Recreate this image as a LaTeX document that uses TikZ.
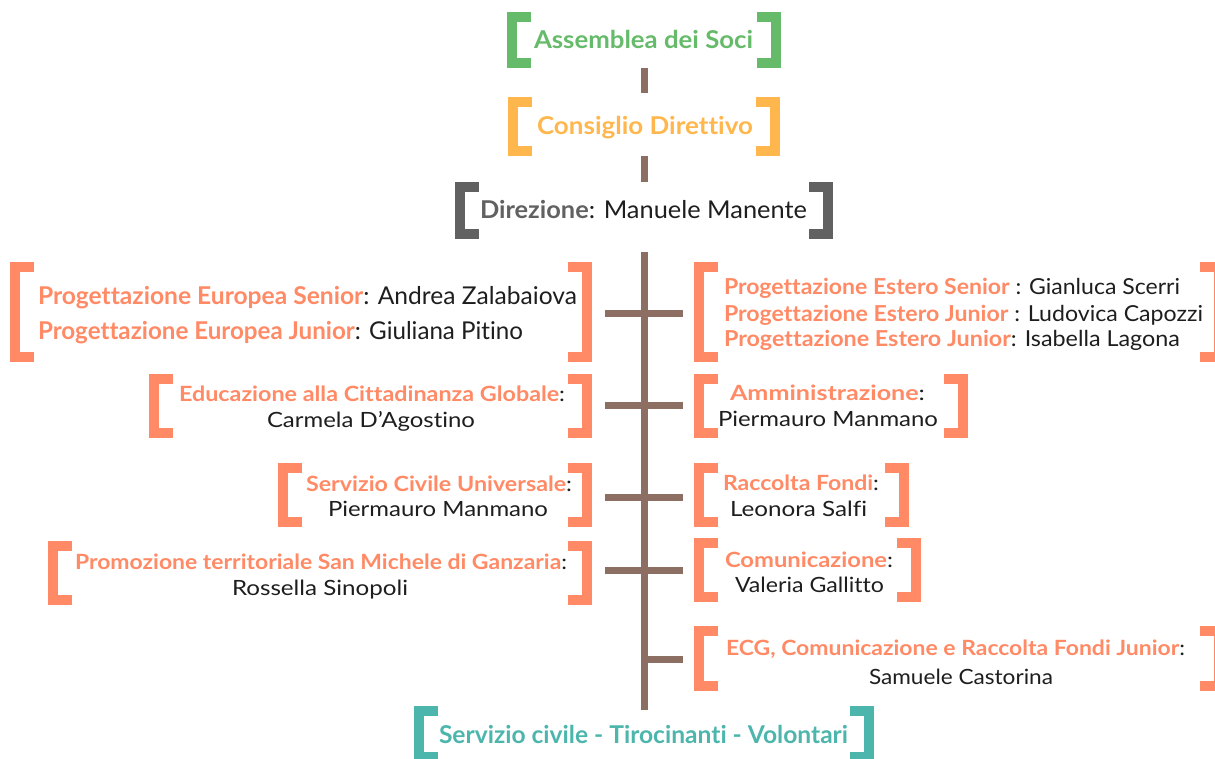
\documentclass[tikz,border=0pt]{standalone}
\usepackage{fontspec}
\usepackage{graphicx}
\setmainfont{Lato}[Ligatures=NoCommon]
\usetikzlibrary{calc}
\definecolor{cgreen}{HTML}{66BB6A}
\definecolor{corange}{HTML}{FFB74D}
\definecolor{cgray}{HTML}{616161}
\definecolor{csal}{HTML}{FF8A65}
\definecolor{cteal}{HTML}{4DB6AC}
\definecolor{cbrown}{HTML}{8D6E63}
\definecolor{cname}{HTML}{1E1E1E}

\newlength\fwlen
\newcommand\fitw[2]{\settowidth\fwlen{#2}\pgfmathsetmacro\fwr{(#1)*0.75pt/\fwlen}\scalebox{\fwr}[1]{#2}}
\newcommand\lab[2][csal]{{\color{#1}\bfseries #2}}

\tikzset{
  frame/.style={inner sep=0pt, outer sep=0pt, draw=none, rectangle},
  conn/.style={draw=cbrown, line width=5.25pt},
  txt/.style={inner sep=0pt, outer sep=0pt, anchor=base west, text=cname},
  big/.style={txt, font=\fontsize{18.4}{22}\selectfont},
  mid/.style={txt, font=\fontsize{16.5}{20}\selectfont},
  small/.style={txt, font=\fontsize{15.75}{19}\selectfont},
}

% name, colour, x1, y1, x2, y2 (pixels)
\newcommand\bbox[6]{%
  \node[frame, minimum width={(#5-#3)*0.75pt}, minimum height={(#6-#4)*0.75pt}]
    (#1) at ({(#3+#5)/2},{(#4+#6)/2}) {};
  \fill[#2] (#1.north west) rectangle ([xshift=7.5pt]#1.south west);
  \fill[#2] (#1.north west) rectangle ++(24,10);
  \fill[#2] (#1.south west) rectangle ++(24,-10);
  \fill[#2] (#1.north east) rectangle ([xshift=-7.5pt]#1.south east);
  \fill[#2] (#1.north east) rectangle ++(-24,10);
  \fill[#2] (#1.south east) rectangle ++(-24,-10);
}
% style, name, x1, x2, baseline, text
\newcommand\tline[6]{\node[#1] (#2) at (#3,#5) {\fitw{#4-#3}{#6}};}

\begin{document}
\begin{tikzpicture}[x=0.75pt, y=-0.75pt]
\useasboundingbox (0,0) rectangle (1215,759);
\clip (0,0) rectangle (1215,759);

% frames
\bbox{assem}{cgreen}{507}{12}{781}{68}
\bbox{consig}{corange}{508}{97}{780}{156}
\bbox{direz}{cgray}{455}{182}{833}{239}
\bbox{europea}{csal}{10}{262}{592}{362}
\bbox{estero}{csal}{694}{262}{1224}{362}
\bbox{educ}{csal}{149}{374}{592}{438}
\bbox{ammin}{csal}{694}{374}{968}{438}
\bbox{scu}{csal}{278}{463}{592}{527}
\bbox{fondi}{csal}{694}{463}{909}{527}
\bbox{promo}{csal}{48}{541}{592}{605}
\bbox{comun}{csal}{694}{538}{921}{602}
\bbox{ecg}{csal}{694}{626}{1224}{691}
\bbox{servizio}{cteal}{414}{706}{874}{762}

% connectors
\coordinate (r1) at (644,313.7);
\coordinate (r2) at (644,406);
\coordinate (r3) at (644,498);
\coordinate (r4) at (644,570);
\coordinate (r5) at (644,659);
\draw[conn, shorten >=3pt] (assem.south) -- (assem.south |- consig.north);
\draw[conn] (consig.south) -- (consig.south |- direz.north);
\draw[conn, shorten <=9.75pt, shorten >=-3pt] (direz.south) -- (direz.south |- servizio.north);
\draw[conn, shorten <=9.75pt, shorten >=8.25pt] (europea.east |- r1) -- (estero.west |- r1);
\draw[conn, shorten <=9.75pt, shorten >=8.25pt] (educ.east |- r2) -- (ammin.west |- r2);
\draw[conn, shorten <=9.75pt, shorten >=8.25pt] (scu.east |- r3) -- (fondi.west |- r3);
\draw[conn, shorten <=9.75pt, shorten >=8.25pt] (promo.east |- r4) -- (comun.west |- r4);
\draw[conn, shorten >=8.25pt] (r5) -- (ecg.west |- r5);

% texts
\tline{big}{assemT}{534}{753}{49}{\lab[cgreen]{Assemblea dei Soci}}
\tline{big}{consigT}{537}{753}{135}{\lab[corange]{Consiglio Direttivo}}
\tline{big}{direzT}{480}{807}{219}{\lab[cgray]{Direzione}: Manuele Manente}

\tline{big}{eu1}{38}{577}{305}{\lab{Progettazione Europea Senior}: Andrea Zalabaiova}
\tline{big}{eu2}{38}{523}{340}{\lab{Progettazione Europea Junior}: Giuliana Pitino}

\tline{mid}{es1}{724}{1180}{295}{\lab{Progettazione Estero Senior} : Gianluca Scerri}
\tline{mid}{es2}{724}{1203}{322}{\lab{Progettazione Estero Junior} : Ludovica Capozzi}
\tline{mid}{es3}{724}{1180}{347}{\lab{Progettazione Estero Junior}: Isabella Lagona}

\tline{small}{ed1}{179}{565}{402}{\lab{Educazione alla Cittadinanza Globale}:}
\tline{small}{ed2}{267}{475}{428}{Carmela D’Agostino}

\tline{small}{am1}{730}{925}{401}{\lab{Amministrazione}:}
\tline{small}{am2}{718}{938}{427}{Piermauro Manmano}

\tline{small}{sc1}{306}{572}{492}{\lab{Servizio Civile Universale}:}
\tline{small}{sc2}{328}{548}{517}{Piermauro Manmano}

\tline{small}{fo1}{723}{879}{491}{\lab{Raccolta Fondi}:}
\tline{small}{fo2}{730}{867}{517}{Leonora Salfi}

\tline{small}{pr1}{75}{567}{569}{\lab{Promozione territoriale San Michele di Ganzaria}:}
\tline{small}{pr2}{232}{408}{595}{Rossella Sinopoli}

\tline{small}{co1}{725}{893}{567}{\lab{Comunicazione}:}
\tline{small}{co2}{735}{884}{592}{Valeria Gallitto}

\tline{small}{ec1}{726}{1185}{655}{\lab{ECG, Comunicazione e Raccolta Fondi Junior}:}
\tline{small}{ec2}{869}{1053}{684}{Samuele Castorina}

\tline{big}{servT}{439}{848}{743}{\lab[cteal]{Servizio civile - Tirocinanti - Volontari}}
\end{tikzpicture}
\end{document}
